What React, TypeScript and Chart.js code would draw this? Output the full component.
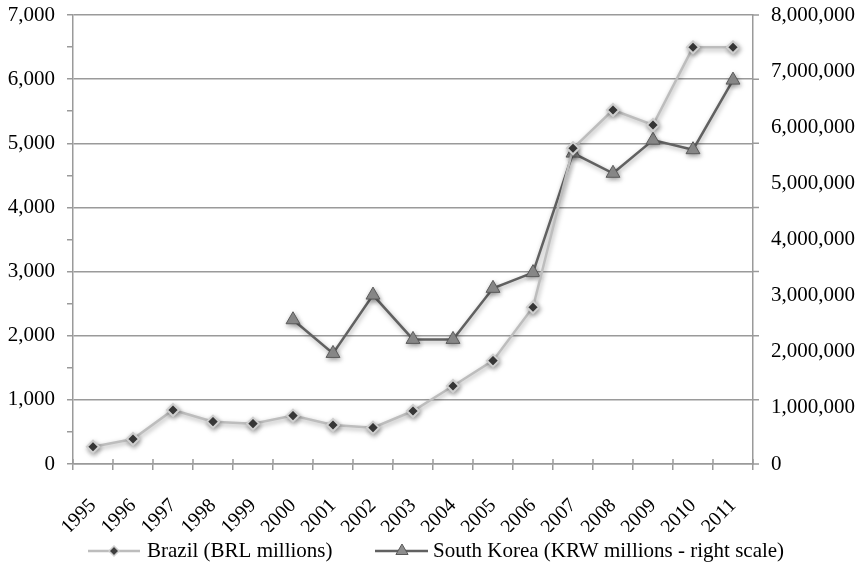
import React, { useEffect, useRef } from "react";
import { Chart, registerables } from "chart.js";

Chart.register(...registerables);

const years = ["1995","1996","1997","1998","1999","2000","2001","2002","2003","2004","2005","2006","2007","2008","2009","2010","2011"];
const brazil = [270, 390, 842, 660, 629, 754, 608, 567, 826, 1216, 1611, 2443, 4922, 5519, 5285, 6496, 6496];
const korea = [null, null, null, null, null, 2570000, 1970000, 3010000, 2220000, 2220000, 3130000, 3410000, 5540000, 5180000, 5770000, 5600000, 6840000];
const brazilLabel = "Brazil (BRL millions)";
const koreaLabel = "South Korea (KRW millions - right scale)";

const FONT = "'Liberation Serif', 'Times New Roman', serif";
const GRID = "#9a9a9a";
const BR_LINE = "#bdbdbd";
const BR_FILL = "#3e3e3e";
const BR_BORDER = "#cfcfcf";
const KR_LINE = "#616161";
const KR_FILL = "#8e8e8e";
const KR_BORDER = "#5a5a5a";

const fmt = (v: number) => Math.round(v).toLocaleString("en-US");

const shadowPlugin = {
  id: "shadow",
  beforeDatasetsDraw(chart: any) {
    const ctx = chart.ctx;
    ctx.save();
    ctx.shadowColor = "rgba(0,0,0,0.35)";
    ctx.shadowBlur = 5;
    ctx.shadowOffsetX = 1;
    ctx.shadowOffsetY = 2;
  },
  afterDatasetsDraw(chart: any) {
    chart.ctx.restore();
  },
};

const tickExtPlugin = {
  id: "tickExt",
  afterDraw(chart: any) {
    const ctx = chart.ctx;
    const a = chart.chartArea;
    const ys = chart.scales.y;
    ctx.save();
    ctx.strokeStyle = GRID;
    ctx.lineWidth = 1.5;
    ctx.beginPath();
    for (let v = 0; v <= 7000; v += 1000) {
      const y = ys.getPixelForValue(v);
      ctx.moveTo(a.right, y);
      ctx.lineTo(a.right + 6, y);
    }
    const n = years.length;
    for (let i = 0; i <= n; i++) {
      const x = a.left + (i * (a.right - a.left)) / n;
      ctx.moveTo(x, a.bottom - 5);
      ctx.lineTo(x, a.bottom);
    }
    ctx.stroke();
    ctx.restore();
  },
};

const legendPlugin = {
  id: "customLegend",
  afterDraw(chart: any) {
    const ctx = chart.ctx;
    const y = 551;
    ctx.save();
    ctx.font = `21px ${FONT}`;
    ctx.textBaseline = "middle";
    ctx.fillStyle = "#000";
    ctx.strokeStyle = BR_LINE;
    ctx.lineWidth = 2.5;
    ctx.beginPath();
    ctx.moveTo(88, y);
    ctx.lineTo(140, y);
    ctx.stroke();
    ctx.fillStyle = BR_FILL;
    ctx.strokeStyle = BR_BORDER;
    ctx.lineWidth = 1.5;
    ctx.beginPath();
    const r = 5;
    ctx.moveTo(114, y - r);
    ctx.lineTo(114 + r, y);
    ctx.lineTo(114, y + r);
    ctx.lineTo(114 - r, y);
    ctx.closePath();
    ctx.fill();
    ctx.stroke();
    ctx.fillStyle = "#000";
    ctx.fillText(brazilLabel, 147, y);
    ctx.strokeStyle = KR_LINE;
    ctx.lineWidth = 2.5;
    ctx.beginPath();
    ctx.moveTo(375, y);
    ctx.lineTo(428, y);
    ctx.stroke();
    ctx.fillStyle = KR_FILL;
    ctx.strokeStyle = KR_BORDER;
    ctx.lineWidth = 1;
    ctx.beginPath();
    const t = 7;
    ctx.moveTo(402, y - t);
    ctx.lineTo(402 + t * 0.87, y + t * 0.5);
    ctx.lineTo(402 - t * 0.87, y + t * 0.5);
    ctx.closePath();
    ctx.fill();
    ctx.stroke();
    ctx.fillStyle = "#000";
    ctx.fillText(koreaLabel, 433, y);
    ctx.restore();
  },
};

export default function App() {
  const ref = useRef<HTMLCanvasElement | null>(null);
  useEffect(() => {
    if (!ref.current) return;
    const chart = new Chart(ref.current, {
      type: "line",
      data: {
        labels: years,
        datasets: [
          {
            label: brazilLabel,
            data: brazil,
            yAxisID: "y",
            borderColor: BR_LINE,
            borderWidth: 2.5,
            backgroundColor: BR_FILL,
            pointStyle: "rectRot",
            pointRadius: 6,
            pointBackgroundColor: BR_FILL,
            pointBorderColor: BR_BORDER,
            pointBorderWidth: 2,
            tension: 0,
          },
          {
            label: koreaLabel,
            data: korea,
            yAxisID: "y2",
            borderColor: KR_LINE,
            borderWidth: 2.5,
            backgroundColor: KR_FILL,
            pointStyle: "triangle",
            pointRadius: 8,
            pointBackgroundColor: KR_FILL,
            pointBorderColor: KR_BORDER,
            pointBorderWidth: 1,
            spanGaps: false,
            tension: 0,
          },
        ],
      },
      options: {
        animation: false,
        responsive: false,
        layout: { padding: { top: 15, left: 0, right: 0, bottom: 40 } },
        plugins: {
          legend: { display: false },
          tooltip: { enabled: false },
          title: { display: false },
        },
        scales: {
          x: {
            type: "category",
            offset: true,
            grid: { offset: true, drawOnChartArea: false, color: GRID, tickColor: GRID, tickLength: 6, lineWidth: 1.5 },
            border: { color: GRID, width: 1.5 },
            ticks: {
              color: "#000",
              font: { family: FONT, size: 20 },
              maxRotation: 45,
              minRotation: 45,
              autoSkip: false,
              padding: 24,
            },
            afterFit: (s: any) => { s.height = 68; s.paddingLeft = 0; s.paddingRight = 0; },
          },
          y: {
            position: "left",
            min: 0,
            max: 7000,
            grid: {
              color: (c: any) => (c.tick && c.tick.value % 1000 === 0 ? GRID : "rgba(0,0,0,0)"),
              tickColor: GRID,
              tickLength: 6,
              lineWidth: 1.5,
            },
            border: { color: GRID, width: 1.5 },
            ticks: {
              stepSize: 500,
              autoSkip: false,
              color: "#000",
              font: { family: FONT, size: 21 },
              padding: 12,
              callback: (v: any) => (Number(v) % 1000 === 0 ? fmt(Number(v)) : ""),
            },
            afterFit: (s: any) => { s.width = 73; s.paddingTop = 0; s.paddingBottom = 0; },
          },
          y2: {
            position: "right",
            min: 0,
            max: 8000000,
            grid: { drawOnChartArea: false, drawTicks: false, color: GRID },
            border: { color: GRID, width: 1.5 },
            ticks: {
              stepSize: 1000000,
              autoSkip: false,
              color: "#000",
              font: { family: FONT, size: 21 },
              padding: 18,
              callback: (v: any) => fmt(Number(v)),
            },
            afterFit: (s: any) => { s.width = 107; s.paddingTop = 0; s.paddingBottom = 0; },
          },
        },
      },
      plugins: [shadowPlugin, tickExtPlugin, legendPlugin],
    });
    return () => chart.destroy();
  }, []);
  return (
    <div style={{ position: "absolute", left: 0, top: 0, width: 860, height: 572, background: "#fff" }}>
      <canvas ref={ref} width={860} height={572} style={{ display: "block" }} />
    </div>
  );
}
